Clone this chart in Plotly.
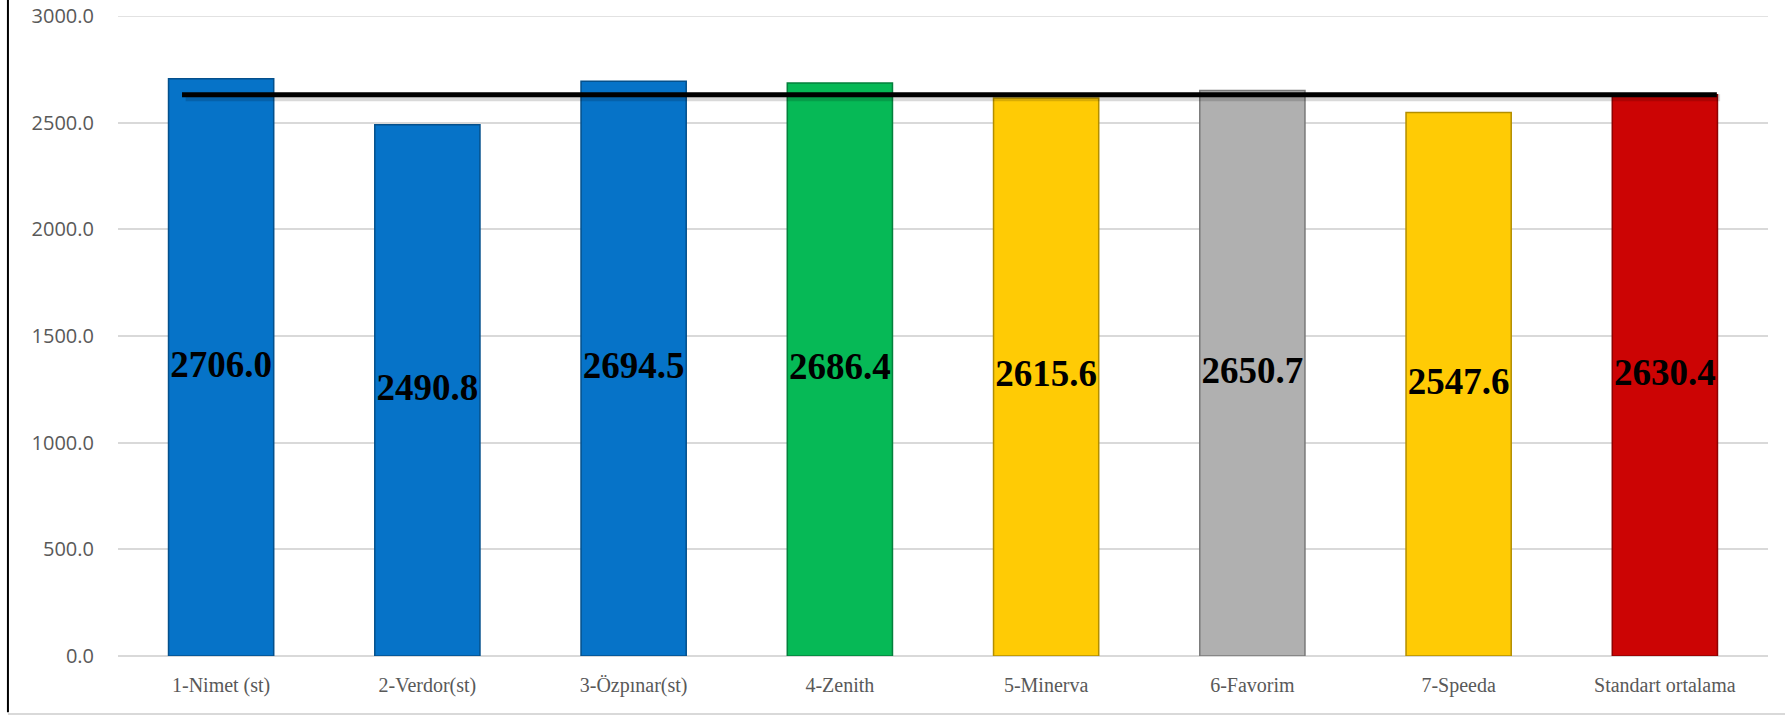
import plotly.graph_objects as go

# data
categories = ['1-Nimet (st)', '2-Verdor(st)', '3-Özpınar(st)', '4-Zenith',
              '5-Minerva', '6-Favorim', '7-Speeda', 'Standart ortalama']
values = [2706.0, 2490.8, 2694.5, 2686.4, 2615.6, 2650.7, 2547.6, 2630.4]
bar_colors = ['#0673C8', '#0673C8', '#0673C8', '#06B956',
              '#FFCB05', '#B0B0B0', '#FFCB05', '#CC0404']
edge_colors = ['#04508C', '#04508C', '#04508C', '#04803C',
               '#B38E00', '#7A7A7A', '#B38E00', '#8E0202']
average = values[-1]
y_max = 3000

fig = go.Figure()

fig.add_trace(go.Bar(
    x=categories,
    y=values,
    marker=dict(color=bar_colors, line=dict(color=edge_colors, width=1.5)),
    hoverinfo='x+y',
))

# value labels centred in each bar
fig.add_trace(go.Scatter(
    x=categories,
    y=[v / 2 for v in values],
    text=['{:.1f}'.format(v) for v in values],
    mode='text',
    textposition='middle center',
    textfont=dict(family='Liberation Serif', size=37, color='black', weight='bold'),
    hoverinfo='skip',
))

# plotly drops the grid line sitting on the top edge, draw it back
fig.add_shape(type='line', xref='paper', yref='y', layer='below',
              x0=0, x1=1, y0=y_max, y1=y_max,
              line=dict(color='#D9D9D9', width=1.5))

# average line (with a soft shadow underneath)
fig.add_shape(type='line', xref='paper', yref='y',
              x0=0.041, x1=0.971, y0=average - 14, y1=average - 14,
              line=dict(color='rgba(0,0,0,0.15)', width=7))
fig.add_shape(type='line', xref='paper', yref='y',
              x0=0.0388, x1=0.969, y0=average, y1=average,
              line=dict(color='black', width=5))

# frame pieces of the original image
fig.add_shape(type='line', xref='paper', yref='paper',
              x0=-0.0667, x1=-0.0667, y0=1.03, y1=-0.088,
              line=dict(color='black', width=2))
fig.add_shape(type='line', xref='paper', yref='paper',
              x0=-0.0667, x1=1.02, y0=-0.0906, y1=-0.0906,
              line=dict(color='#D9D9D9', width=2))

fig.update_layout(
    width=1785,
    height=715,
    margin=dict(l=118, r=17, t=16, b=59, autoexpand=False),
    paper_bgcolor='white',
    plot_bgcolor='white',
    showlegend=False,
    bargap=0.49,
    font=dict(family='Liberation Serif', color='#595959'),
)
fig.update_xaxes(
    automargin=False,
    showline=False,
    tickfont=dict(family='Liberation Serif', size=20, color='#595959'),
    ticklabelstandoff=15,
)
fig.update_yaxes(
    automargin=False,
    range=[0, y_max],
    dtick=500,
    tickformat='.1f',
    showgrid=True,
    gridcolor='#D9D9D9',
    gridwidth=1.5,
    zeroline=True,
    zerolinecolor='#D9D9D9',
    zerolinewidth=1.5,
    tickfont=dict(family='Open Sans', size=20, color='#595959'),
    ticklabelstandoff=23,
    ticklabeloverflow='allow',
)

# drop the default body margin so the figure sits at the page corner
fig.write_html('out.html', config={'displayModeBar': False},
               post_script="document.body.style.margin='0';")
